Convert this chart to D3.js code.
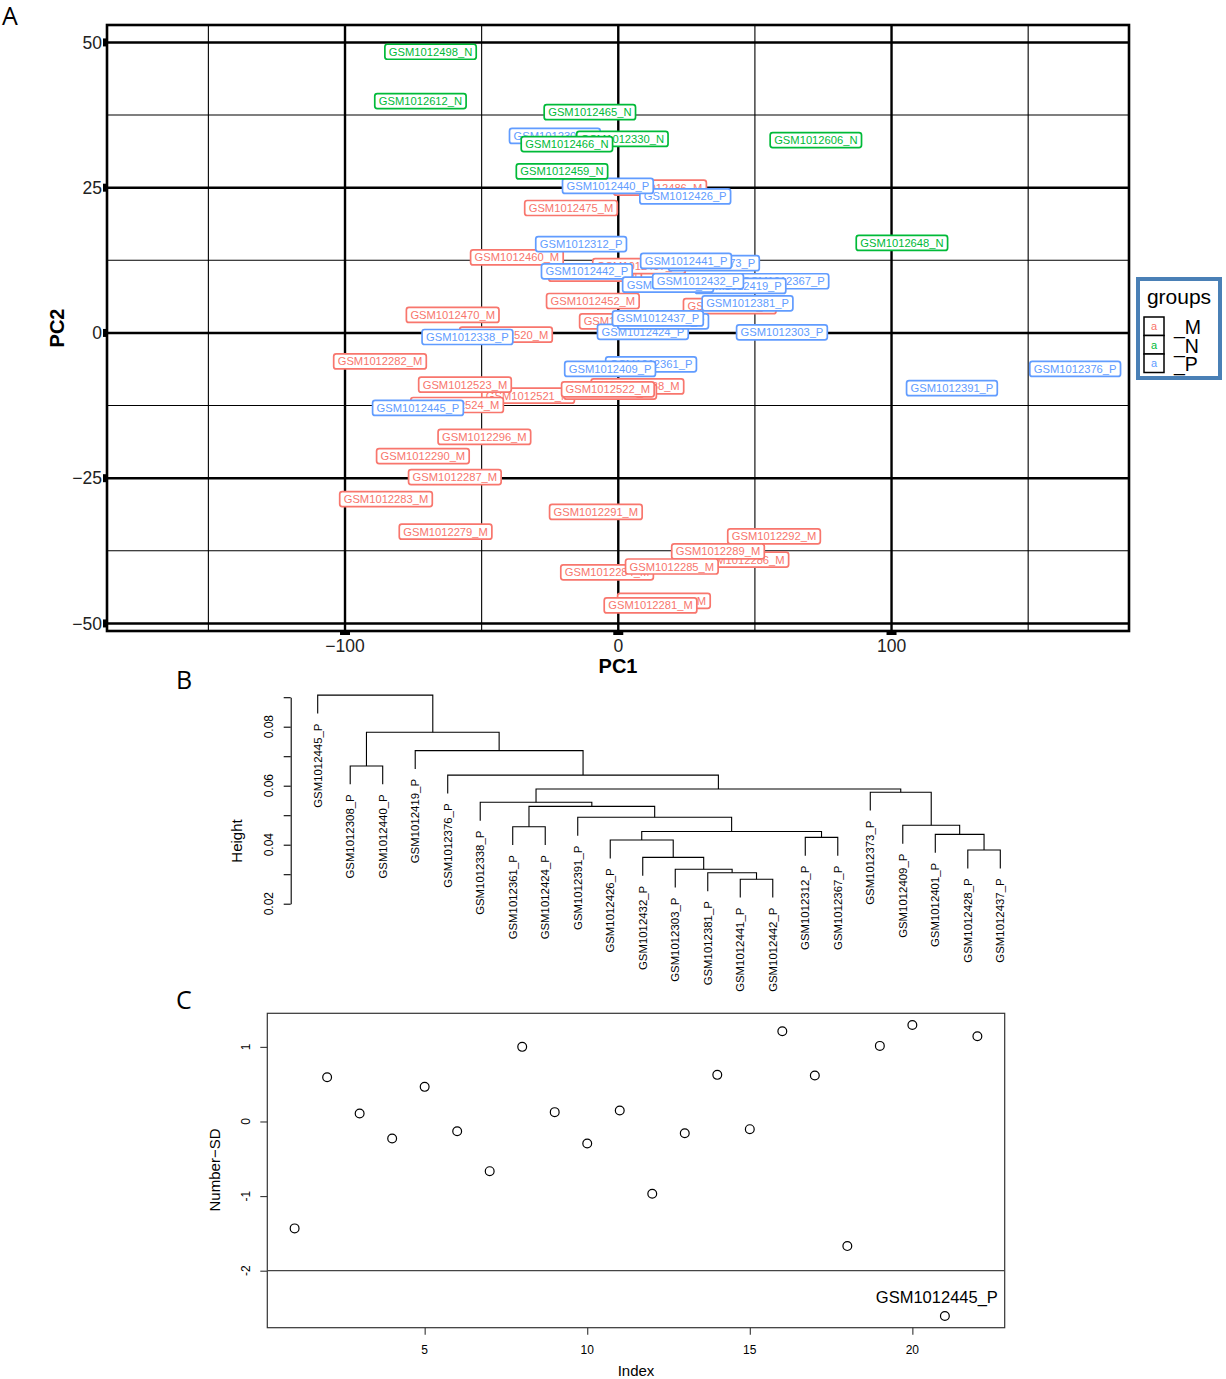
<!DOCTYPE html>
<html><head><meta charset="utf-8">
<script src="https://cdn.jsdelivr.net/npm/d3@7"></script>
<style>body{margin:0;background:#fff} svg{display:block}</style>
</head><body>
<svg id="fig" width="1226" height="1379"></svg>
<script>
// ---- panel A : PCA of samples (drawing order = data order)
var sampleIds = [
  "GSM1012486_M","GSM1012475_M","GSM1012460_M","GSM1012455_M","GSM1012457_M","GSM1012452_M",
  "GSM1012470_M","GSM1012520_M","GSM1012519_M","GSM1012449_M","GSM1012282_M","GSM1012521_M",
  "GSM1012524_M","GSM1012523_M","GSM1012288_M","GSM1012518_M","GSM1012522_M","GSM1012296_M",
  "GSM1012290_M","GSM1012287_M","GSM1012283_M","GSM1012279_M","GSM1012291_M","GSM1012292_M",
  "GSM1012286_M","GSM1012289_M","GSM1012284_M","GSM1012285_M","GSM1012280_M","GSM1012281_M",
  "GSM1012308_P","GSM1012426_P","GSM1012440_P","GSM1012312_P","GSM1012373_P","GSM1012441_P",
  "GSM1012442_P","GSM1012367_P","GSM1012419_P","GSM1012401_P","GSM1012432_P","GSM1012381_P",
  "GSM1012424_P","GSM1012428_P","GSM1012437_P","GSM1012303_P","GSM1012338_P","GSM1012361_P",
  "GSM1012409_P","GSM1012445_P","GSM1012391_P","GSM1012376_P",
  "GSM1012498_N","GSM1012612_N","GSM1012465_N","GSM1012330_N","GSM1012466_N","GSM1012459_N",
  "GSM1012606_N","GSM1012648_N"
];
var pc1 = [
  15.3,-17.3,-37.1,-8.5,7.6,-9.3, -60.6,-41.1,2.8,40.8,-87.2,-33.0,
  -59.0,-56.1,7.0,-3.0,-3.8,-49.0, -71.5,-59.8,-85.0,-63.2,-8.2,57.0,
  45.4,36.5,-4.1,19.6,16.7,11.8,
  -23.2,24.5,-3.8,-13.6,35.0,24.8, -11.5,60.4,44.7,18.2,29.2,47.3,
  9.0,16.4,14.5,59.9,-55.2,12.0, -3.0,-73.3,122.1,167.2,
  -68.7,-72.4,-10.4,1.5,-18.8,-20.6, 72.3,103.8
];
var pc2 = [
  25.0,21.5,13.0,10.2,11.5,5.5, 3.1,-0.3,2.0,4.6,-4.9,-10.8,
  -12.4,-8.9,-9.2,-10.1,-9.7,-17.9, -21.2,-24.8,-28.6,-34.2,-30.8,-35.0,
  -39.0,-37.6,-41.2,-40.2,-46.1,-46.9,
  33.9,23.5,25.3,15.3,12.0,12.4, 10.6,8.9,8.1,8.3,8.9,5.1,
  0.2,2.0,2.5,0.1,-0.7,-5.4, -6.2,-12.9,-9.5,-6.2,
  48.4,39.9,38.0,33.4,32.5,27.8, 33.2,15.5
];
var groupKeys = ["M","N","P"];
var groupColors = ["#F8766D","#00BA38","#619CFF"];
var pcMajorX = [-100,0,100], pcMinorX = [-150,-50,50,150];
var pcMajorY = [-50,-25,0,25,50], pcMinorY = [-37.5,-12.5,12.5,37.5];

// ---- panel B : hierarchical clustering of P samples
var leafOrder = [
  "GSM1012445_P","GSM1012308_P","GSM1012440_P","GSM1012419_P","GSM1012376_P","GSM1012338_P",
  "GSM1012361_P","GSM1012424_P","GSM1012391_P","GSM1012426_P","GSM1012432_P","GSM1012303_P",
  "GSM1012381_P","GSM1012441_P","GSM1012442_P","GSM1012312_P","GSM1012367_P","GSM1012373_P",
  "GSM1012409_P","GSM1012401_P","GSM1012428_P","GSM1012437_P"
];
// merges, "mN" refers to the N-th merge (1-based), like R's hclust merge matrix
var mergePairs = [
  ["GSM1012441_P","GSM1012442_P"], ["GSM1012381_P","m1"], ["GSM1012303_P","m2"],
  ["GSM1012432_P","m3"], ["GSM1012426_P","m4"], ["GSM1012312_P","GSM1012367_P"],
  ["m5","m6"], ["GSM1012391_P","m7"], ["GSM1012361_P","GSM1012424_P"],
  ["m9","m8"], ["GSM1012338_P","m10"], ["GSM1012428_P","GSM1012437_P"],
  ["GSM1012401_P","m12"], ["GSM1012409_P","m13"], ["GSM1012373_P","m14"],
  ["m11","m15"], ["GSM1012376_P","m16"], ["GSM1012419_P","m17"],
  ["GSM1012308_P","GSM1012440_P"], ["m19","m18"], ["GSM1012445_P","m20"]
];
var mergeHeights = [0.0283,0.0305,0.0317,0.0357,0.0416,0.0425,0.0445,0.0493,0.0461,0.0530,
  0.0544,0.0382,0.0435,0.0466,0.0578,0.0589,0.0636,0.0719,0.0667,0.0781,0.0907];
var heightTicks = [0.02,0.03,0.04,0.05,0.06,0.07,0.08,0.09];
var heightLabels = [0.02,0.04,0.06,0.08];

// ---- panel C : number of SD per sample
var numberSD = [-1.433,0.593,0.107,-0.228,0.464,-0.130,-0.666,1.000,0.125,-0.295,0.147,
  -0.969,-0.157,0.625,-0.103,1.209,0.616,-1.670,1.013,1.294,-2.607,1.143];
var sdCutoff = -2;
var outlierIndex = 21, outlierName = "GSM1012445_P";
var indexTicks = [5,10,15,20], sdTicks = [-2,-1,0,1];

var FONT = "'Liberation Sans', Arial, Helvetica, sans-serif";
var svg = d3.select("#fig").style("font-family", FONT);

// panel letters
svg.selectAll("text.letter").data([["A",2,25],["B",176,689],["C",176,1009]]).enter()
  .append("text").attr("class","letter")
  .attr("x", function (d) { return d[1]; }).attr("y", function (d) { return d[2]; })
  .style("font-family","'Open Sans', 'Noto Sans', sans-serif").style("font-size","25px")
  .text(function (d) { return d[0]; });

// ================= A =================
var L = 107, R = 1129, T = 25, B = 631;
var ax = d3.scaleLinear().domain([-187.1, 186.9]).range([L, R]);
var ay = d3.scaleLinear().domain([53.0, -51.3]).range([T, B]);
var pa = svg.append("g");

pa.selectAll("line.mx").data(pcMinorX).enter().append("line")
  .attr("x1", ax).attr("x2", ax).attr("y1", T).attr("y2", B)
  .attr("stroke", "#000").attr("stroke-width", 1.1);
pa.selectAll("line.my").data(pcMinorY).enter().append("line")
  .attr("x1", L).attr("x2", R).attr("y1", ay).attr("y2", ay)
  .attr("stroke", "#000").attr("stroke-width", 1.1);
pa.selectAll("line.Mx").data(pcMajorX).enter().append("line")
  .attr("x1", ax).attr("x2", ax).attr("y1", T).attr("y2", B)
  .attr("stroke", "#000").attr("stroke-width", 2.4);
pa.selectAll("line.My").data(pcMajorY).enter().append("line")
  .attr("x1", L).attr("x2", R).attr("y1", ay).attr("y2", ay)
  .attr("stroke", "#000").attr("stroke-width", 2.4);
pa.append("rect").attr("x", L).attr("y", T).attr("width", R - L).attr("height", B - T)
  .attr("fill", "none").attr("stroke", "#000").attr("stroke-width", 2.6);

// ticks
pa.selectAll("rect.ty").data(pcMajorY).enter().append("rect")
  .attr("x", L - 4).attr("y", function (d) { return ay(d) - 4; }).attr("width", 4).attr("height", 8);
pa.selectAll("rect.tx").data(pcMajorX).enter().append("rect")
  .attr("x", function (d) { return ax(d) - 5; }).attr("y", B).attr("width", 10).attr("height", 4);
var fmt = function (d) { return d < 0 ? "\u2212" + Math.abs(d) : String(d); };
pa.selectAll("text.ty").data(pcMajorY).enter().append("text")
  .attr("x", L - 5).attr("y", ay).attr("dy", "0.36em").attr("text-anchor", "end")
  .style("font-size", "17.5px").attr("fill", "#222").text(fmt);
pa.selectAll("text.tx").data(pcMajorX).enter().append("text")
  .attr("x", ax).attr("y", 652).attr("text-anchor", "middle")
  .style("font-size", "17.5px").attr("fill", "#222").text(fmt);
pa.append("text").attr("x", (L + R) / 2).attr("y", 673).attr("text-anchor", "middle")
  .style("font-size", "20px").style("font-weight", "bold").text("PC1");
pa.append("text").attr("transform", "translate(64," + (T + B) / 2 + ") rotate(-90)")
  .attr("text-anchor", "middle")
  .style("font-size", "20px").style("font-weight", "bold").text("PC2");

// sample labels
var samples = sampleIds.map(function (id, i) {
  var g = id.slice(-1);
  return { id: id, x: pc1[i], y: pc2[i], color: groupColors[groupKeys.indexOf(g)] };
});
var lab = pa.selectAll("g.lab").data(samples).enter().append("g")
  .attr("transform", function (d) { return "translate(" + ax(d.x) + "," + ay(d.y) + ")"; });
lab.append("rect").attr("fill", "#fff").attr("stroke", function (d) { return d.color; })
  .attr("stroke-width", 1.7).attr("rx", 2.5).attr("ry", 2.5);
lab.append("text").attr("text-anchor", "middle").attr("dy", "0.36em")
  .style("font-size", "11.2px").attr("fill", function (d) { return d.color; })
  .text(function (d) { return d.id; });
lab.each(function () {
  var g = d3.select(this);
  var w = g.select("text").node().getComputedTextLength() + 8;
  g.select("rect").attr("x", -w / 2).attr("y", -7.5).attr("width", w).attr("height", 15);
});

// legend
var lg = svg.append("g").attr("transform", "translate(1138,279)");
lg.append("rect").attr("x", 0).attr("y", 0).attr("width", 82).attr("height", 99)
  .attr("fill", "#fff").attr("stroke", "#4A80B6").attr("stroke-width", 4);
lg.append("text").attr("x", 41).attr("y", 25).attr("text-anchor", "middle")
  .style("font-size", "21px").text("groups");
var key = lg.selectAll("g.key").data(groupKeys).enter().append("g")
  .attr("transform", function (d, i) { return "translate(6," + (38 + i * 18.5) + ")"; });
key.append("rect").attr("width", 20).attr("height", 18.5).attr("fill", "#fff")
  .attr("stroke", "#000").attr("stroke-width", 1.5);
key.append("text").attr("x", 10).attr("y", 13).attr("text-anchor", "middle")
  .style("font-size", "11px").attr("fill", function (d, i) { return groupColors[i]; }).text("a");
key.append("text").attr("x", 30).attr("y", 17).style("font-size", "19.5px")
  .text(function (d) { return "_" + d; });

// ================= B =================
var bx = d3.scaleLinear().domain([1, 22]).range([317.7, 1000.3]);
var by = d3.scaleLinear().domain([0.02, 0.09]).range([903.7, 697.2]);
var pb = svg.append("g");
var hang = 0.1 * (d3.max(mergeHeights) - d3.min(mergeHeights));
var leafPos = {};
leafOrder.forEach(function (n, i) { leafPos[n] = i + 1; });
var nodeX = [], leafBottom = {};
function child(c, h) {
  if (c.charAt(0) === "m") { var k = +c.slice(1) - 1; return { x: nodeX[k], y: mergeHeights[k] }; }
  leafBottom[c] = h - hang;
  return { x: leafPos[c], y: h - hang };
}
var links = mergePairs.map(function (p, i) {
  var h = mergeHeights[i];
  var a = child(p[0], h), b = child(p[1], h);
  nodeX[i] = (a.x + b.x) / 2;
  return "M" + bx(a.x) + "," + by(a.y) + "V" + by(h) + "H" + bx(b.x) + "V" + by(b.y);
});
pb.selectAll("path.link").data(links).enter().append("path")
  .attr("d", function (d) { return d; }).attr("fill", "none")
  .attr("stroke", "#000").attr("stroke-width", 1.1);
pb.selectAll("text.leaf").data(leafOrder).enter().append("text")
  .attr("transform", function (d) {
    return "translate(" + (bx(leafPos[d]) + 4) + "," + (by(leafBottom[d]) + 10) + ") rotate(-90)";
  })
  .attr("text-anchor", "end").style("font-size", "11.4px").text(function (d) { return d; });

var bAxis = pb.append("g").attr("transform", "translate(290.7,0)")
  .call(d3.axisLeft(by).tickValues(heightTicks).tickSize(7).tickSizeOuter(0).tickFormat(""));
bAxis.selectAll("line,path").attr("stroke", "#000").attr("stroke-width", 1.1);
pb.selectAll("text.hl").data(heightLabels).enter().append("text")
  .attr("transform", function (d) { return "translate(273," + by(d) + ") rotate(-90)"; })
  .attr("text-anchor", "middle").style("font-size", "12px").text(function (d) { return d.toFixed(2); });
pb.append("text").attr("transform", "translate(242,841) rotate(-90)").attr("text-anchor", "middle")
  .style("font-size", "15px").text("Height");

// ================= C =================
var cx = d3.scaleLinear().domain([0.16, 22.84]).range([267.3, 1004.7]);
var cy = d3.scaleLinear().domain([-2.764, 1.45]).range([1327.7, 1013.3]);
var pc = svg.append("g");
pc.append("rect").attr("x", 267.3).attr("y", 1013.3).attr("width", 1004.7 - 267.3).attr("height", 1327.7 - 1013.3)
  .attr("fill", "none").attr("stroke", "#333").attr("stroke-width", 1.2);
pc.append("line").attr("x1", 267.3).attr("x2", 1004.7).attr("y1", cy(sdCutoff)).attr("y2", cy(sdCutoff))
  .attr("stroke", "#444").attr("stroke-width", 1.2);
var cLeft = pc.append("g").attr("transform", "translate(267.3,0)")
  .call(d3.axisLeft(cy).tickValues(sdTicks).tickSize(7).tickFormat(""));
cLeft.select(".domain").remove();
var cBottom = pc.append("g").attr("transform", "translate(0,1327.7)")
  .call(d3.axisBottom(cx).tickValues(indexTicks).tickSize(7).tickFormat(""));
cBottom.select(".domain").remove();
pc.selectAll(".tick line").attr("stroke", "#333").attr("stroke-width", 1.1);
pc.selectAll("text.sy").data(sdTicks).enter().append("text")
  .attr("transform", function (d) { return "translate(250," + cy(d) + ") rotate(-90)"; })
  .attr("text-anchor", "middle").style("font-size", "12px").text(function (d) { return d; });
pc.selectAll("text.sx").data(indexTicks).enter().append("text")
  .attr("x", cx).attr("y", 1354).attr("text-anchor", "middle").style("font-size", "12px")
  .text(function (d) { return d; });
pc.selectAll("circle").data(numberSD).enter().append("circle")
  .attr("cx", function (d, i) { return cx(i + 1); }).attr("cy", function (d) { return cy(d); })
  .attr("r", 4.4).attr("fill", "none").attr("stroke", "#000").attr("stroke-width", 1.2);
pc.append("text").attr("x", cx(outlierIndex) - 8).attr("y", cy(numberSD[outlierIndex - 1]) - 13)
  .attr("text-anchor", "middle").style("font-size", "16.5px").text(outlierName);
pc.append("text").attr("x", 636).attr("y", 1376).attr("text-anchor", "middle")
  .style("font-size", "15px").text("Index");
pc.append("text").attr("transform", "translate(220,1170) rotate(-90)").attr("text-anchor", "middle")
  .style("font-size", "15px").text("Number\u2212SD");
</script>
</body></html>
